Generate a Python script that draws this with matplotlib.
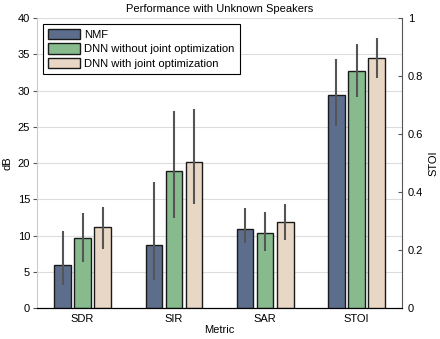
import numpy as np
import matplotlib
matplotlib.use("Agg")
import matplotlib.pyplot as plt

plt.rcParams['font.family'] = ['Liberation Sans', 'DejaVu Sans']
plt.rcParams['font.size'] = 8

# data
metrics = ['SDR', 'SIR', 'SAR']
methods = ['NMF', 'DNN without joint optimization', 'DNN with joint optimization']
colors = ['#5d6e8d', '#87bb8e', '#e9d7c5']

# dB metrics: rows = method, cols = SDR, SIR, SAR
db_mean = [[5.9, 8.75, 10.9],
           [9.7, 18.9, 10.4],
           [11.15, 20.1, 11.9]]
db_hi = [[10.6, 17.4, 13.75],
         [13.05, 27.2, 13.3],
         [14.0, 27.5, 14.35]]
db_lo = [[3.2, 3.9, 9.0],
         [6.35, 12.4, 7.9],
         [8.2, 14.4, 9.35]]

# STOI on right axis
stoi_mean = [0.734, 0.816, 0.861]
stoi_hi = [0.858, 0.910, 0.930]
stoi_lo = [0.626, 0.726, 0.792]

fig = plt.figure(figsize=(4.4, 3.39), dpi=100)
ax = fig.add_axes([0.084, 0.091, 0.83, 0.856])
ax2 = ax.twinx()

width = 0.18
offsets = [-0.22, 0.0, 0.22]
x = np.arange(1, len(metrics) + 1)
xs = len(metrics) + 1

handles = []
for i in range(3):
    m = np.array(db_mean[i])
    yerr = [m - np.array(db_lo[i]), np.array(db_hi[i]) - m]
    b = ax.bar(x + offsets[i], m, width, color=colors[i], edgecolor='#1a1a1a',
               linewidth=1.0, zorder=3, label=methods[i])
    ax.errorbar(x + offsets[i], m, yerr=yerr, fmt='none', ecolor='#555555',
                elinewidth=1.5, capsize=0, zorder=4)
    handles.append(b)

    s = stoi_mean[i]
    ax2.bar(xs + offsets[i], s, width, color=colors[i], edgecolor='#1a1a1a',
            linewidth=1.0, zorder=3)
    ax2.errorbar(xs + offsets[i], s, yerr=[[s - stoi_lo[i]], [stoi_hi[i] - s]],
                 fmt='none', ecolor='#555555', elinewidth=1.5, capsize=0, zorder=4)

ax.set_xlim(0.5, 4.5)
ax.set_ylim(0, 40)
ax.set_yticks(range(0, 41, 5))
ax2.set_ylim(0, 1)
ax2.set_yticks([0, 0.2, 0.4, 0.6, 0.8, 1])
ax2.set_yticklabels(['0', '0.2', '0.4', '0.6', '0.8', '1'])
ax.set_xticks(range(1, 5))
ax.set_xticklabels(metrics + ['STOI'])

ax.grid(axis='y', color='#dddddd', linewidth=0.8, zorder=0)
ax.set_axisbelow(True)

for a in (ax, ax2):
    a.spines['top'].set_visible(False)
    a.tick_params(length=3, width=0.8, pad=2, colors='#555555', labelcolor='black')
ax2.tick_params(axis='y', direction='in', pad=4)
ax.spines['left'].set_color('#cccccc')
ax.spines['right'].set_visible(False)
ax2.spines['left'].set_visible(False)
ax2.spines['right'].set_color('#555555')
ax2.spines['bottom'].set_color('black')
ax.spines['bottom'].set_color('black')
ax.tick_params(axis='x', length=0, pad=4)

ax.set_title('Performance with Unknown Speakers', fontsize=8, pad=4)
ax.set_xlabel('Metric', labelpad=1)
ax.set_ylabel('dB', labelpad=4)
ax2.set_ylabel('STOI', labelpad=4)

leg = ax.legend(handles=handles, loc='upper left', fancybox=False,
                edgecolor='black', framealpha=1, borderpad=0.45,
                handlelength=2.9, handleheight=1.0, handletextpad=0.35,
                labelspacing=0.35, borderaxespad=0.5, fontsize=8.1)
leg.get_frame().set_linewidth(0.8)
leg.set_zorder(10)

fig.savefig('out.png', dpi=100)
